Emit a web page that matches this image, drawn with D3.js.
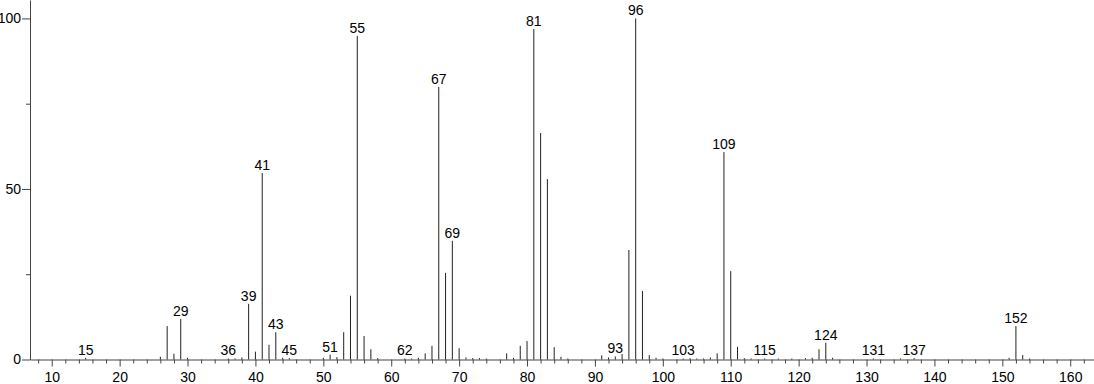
<!DOCTYPE html>
<html>
<head>
<meta charset="utf-8">
<script src="https://cdn.jsdelivr.net/npm/d3@7"></script>
<style>
  body { margin: 0; background: #fff; }
  text { font-family: "Liberation Sans", Arial, sans-serif; }
</style>
</head>
<body>
<script>
// m/z values and relative intensities
const mz = [15, 26, 27, 28, 29, 30, 36, 37, 38, 39, 40, 41, 42, 43, 44, 45,
            50, 51, 52, 53, 54, 55, 56, 57, 58, 62, 63, 64, 65, 66, 67, 68, 69,
            70, 71, 72, 73, 74, 77, 78, 79, 80, 81, 82, 83, 84, 85, 86,
            91, 92, 93, 94, 95, 96, 97, 98, 99, 100, 103, 104, 105, 106, 107, 108,
            109, 110, 111, 112, 113, 115, 117, 119, 121, 122, 123, 124, 125,
            131, 135, 137, 151, 152, 153, 154];
const intensity = [0.5, 0.8, 9.8, 1.7, 11.9, 0.5, 0.3, 0.3, 0.6, 16.3, 2.3, 54.7, 4.3, 8.0, 0.5, 0.4,
                   0.5, 1.4, 0.7, 8.0, 18.7, 94.9, 6.9, 3.0, 0.4, 0.3, 0.3, 0.5, 1.8, 4.0, 79.9, 25.4, 34.8,
                   3.3, 0.6, 0.4, 0.4, 0.3, 1.8, 0.5, 4.0, 5.4, 96.9, 66.4, 52.9, 3.6, 0.8, 0.3,
                   1.2, 0.6, 0.9, 1.6, 32.1, 100, 20.1, 1.3, 0.5, 0.3, 0.3, 0.4, 0.3, 0.3, 0.6, 1.8,
                   60.8, 25.9, 3.7, 0.4, 0.3, 0.3, 0.3, 0.3, 0.4, 0.5, 3.0, 4.9, 0.5,
                   0.3, 0.3, 0.4, 0.5, 9.8, 1.3, 0.3];
const labeled = [15, 29, 36, 39, 41, 43, 45, 51, 55, 62, 67, 69, 81, 93, 96, 103,
                 109, 115, 124, 131, 137, 152];
const xMajor = [10, 20, 30, 40, 50, 60, 70, 80, 90, 100, 110, 120, 130, 140, 150, 160];
const yMajor = [0, 50, 100];
const yMinor = [25, 75];

const W = 1094, H = 384;
const peaks = mz.map((m, i) => ({m: m, v: intensity[i]}));

const svg = d3.select("body").append("svg")
  .attr("width", W).attr("height", H);

const x = d3.scaleLinear().domain([6.8, 163.5]).range([30, 1094]);
const y = d3.scaleLinear().domain([0, 105.4]).range([359.5, 0]);

const xMinor = d3.range(8, 164, 2).filter(v => v % 10 !== 0);

// minor x ticks
svg.append("g")
  .attr("transform", "translate(0," + y(0) + ")")
  .call(d3.axisBottom(x).tickValues(xMinor).tickSize(4).tickSizeOuter(0).tickFormat(""))
  .call(g => g.select(".domain").remove())
  .selectAll("line").attr("stroke", "#444");

// major x ticks + baseline
svg.append("g")
  .attr("transform", "translate(0," + y(0) + ")")
  .call(d3.axisBottom(x).tickValues(xMajor).tickSize(7).tickSizeOuter(0).tickPadding(6))
  .call(g => g.select(".domain").attr("stroke", "#444"))
  .call(g => g.selectAll("line").attr("stroke", "#444"))
  .call(g => g.selectAll("text").attr("fill", "#000").style("font-size", "14px"));

// y axis
svg.append("g")
  .attr("transform", "translate(" + x.range()[0] + ",0)")
  .call(d3.axisLeft(y).tickValues(yMinor).tickSize(4).tickSizeOuter(0).tickFormat(""))
  .call(g => g.select(".domain").remove())
  .selectAll("line").attr("stroke", "#444");

svg.append("g")
  .attr("transform", "translate(" + x.range()[0] + ",0)")
  .call(d3.axisLeft(y).tickValues(yMajor).tickSize(8).tickSizeOuter(0).tickPadding(1))
  .call(g => g.select(".domain").attr("stroke", "#444"))
  .call(g => g.selectAll("line").attr("stroke", "#444"))
  .call(g => g.selectAll("text").attr("fill", "#000").style("font-size", "14px"));

// peaks
svg.append("g").selectAll("line")
  .data(peaks)
  .enter().append("line")
    .attr("x1", d => x(d.m))
    .attr("x2", d => x(d.m))
    .attr("y1", y(0))
    .attr("y2", d => y(d.v))
    .attr("stroke", "#222")
    .attr("stroke-width", 1);

// peak labels
svg.append("g").selectAll("text")
  .data(peaks.filter(d => labeled.includes(d.m)))
  .enter().append("text")
    .attr("x", d => x(d.m))
    .attr("y", d => y(d.v) - 3)
    .attr("text-anchor", "middle")
    .style("font-size", "14px")
    .attr("fill", "#000")
    .text(d => d.m);
</script>
</body>
</html>
